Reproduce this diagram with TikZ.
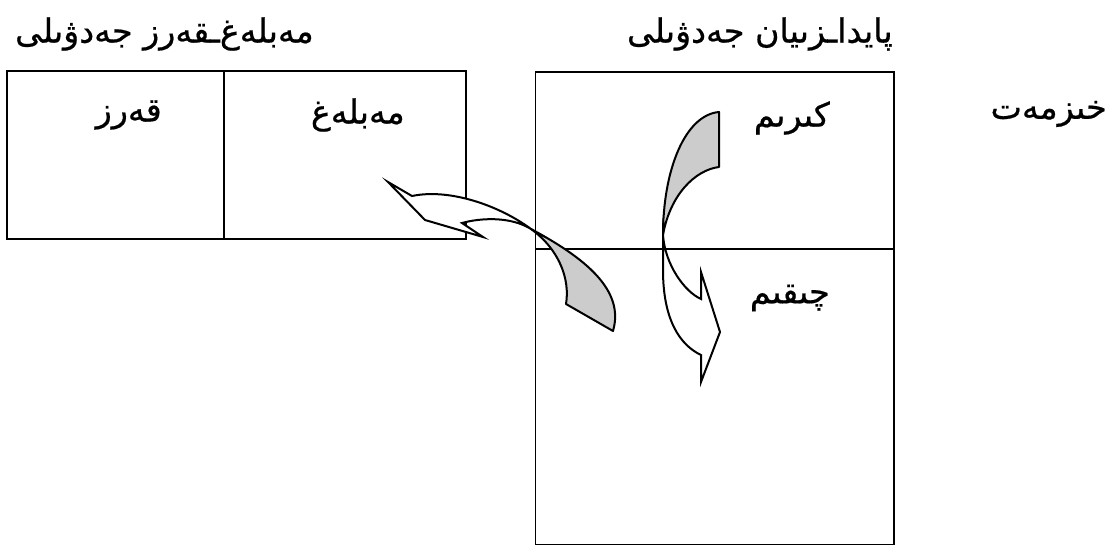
\documentclass[tikz,border=0pt]{standalone}
\usepackage{fontspec}
\newfontfamily\arabicfont[Script=Arabic,FakeBold=0.6]{DejaVu Sans}
\TeXXeTstate=1
\begin{document}
\begin{tikzpicture}[x=0.75pt,y=-0.75pt,
  tableline/.style={draw=black,line width=1.1pt},
  lbl/.style={font=\arabicfont\fontsize{25}{30}\selectfont,inner sep=0pt},
  backface/.style={draw=black,line width=1.5pt,fill=black!20,line join=round},
  frontface/.style={draw=black,line width=1.5pt,fill=white,line join=miter,miter limit=20}]
\useasboundingbox (0,0) rectangle (1120,546);

% loan/amount table
\draw[tableline] (7,71) rectangle (466,239);
\draw[tableline] (224,71) -- (224,239);
% profit/loss table
\draw[tableline] (535.5,72) rectangle (894,544.5);
\draw[tableline] (535.5,249) -- (894,249);

% titles
\node[lbl,anchor=east] (ttlloan) at (314,34) {\beginR مەبلەغ^^^^200cـقەرز جەدۋىلى\endR};
\node[lbl,anchor=east] (ttlprofit) at (893,34) {\beginR پايدا^^^^200cـزىيان جەدۋىلى\endR};

% cell labels
\node[lbl,anchor=east] (qerz) at (162,115) {\beginR قەرز\endR};
\node[lbl,anchor=east] (meblegh) at (405,115) {\beginR مەبلەغ\endR};
\node[lbl,anchor=east] (kirim) at (830,118) {\beginR كىرىم\endR};
\node[lbl,anchor=east] (chiqim) at (830,298) {\beginR چىقىم\endR};
\node[lbl,anchor=east] (xizmet) at (1107,114) {\beginR خىزمەت\endR};

% curved arrow from income down to expense
\draw[backface] (719,112) -- (719,167)
  .. controls (695,170) and (670,195) .. (663,235)
  .. controls (663,170) and (685,115) .. (719,112) -- cycle;
\draw[frontface] (663,235) -- (663,270)
  .. controls (663,320) and (680,345) .. (701,355)
  -- (701,382) -- (720,332) -- (701,272) -- (701,299)
  .. controls (685,292) and (665,265) .. (663,235) -- cycle;

% curved arrow from expense back to the amount column
\draw[backface] (531,229) .. controls (585,258) and (625,290) .. (613,331)
  -- (566,304) .. controls (570,280) and (560,250) .. (531,229) -- cycle;
\draw[frontface] (531,229) .. controls (500,206) and (450,188) .. (412,196)
  -- (388,182) -- (425,220) -- (483,237) -- (462,223)
  .. controls (480,218) and (510,216) .. (531,229) -- cycle;
\end{tikzpicture}
\end{document}
